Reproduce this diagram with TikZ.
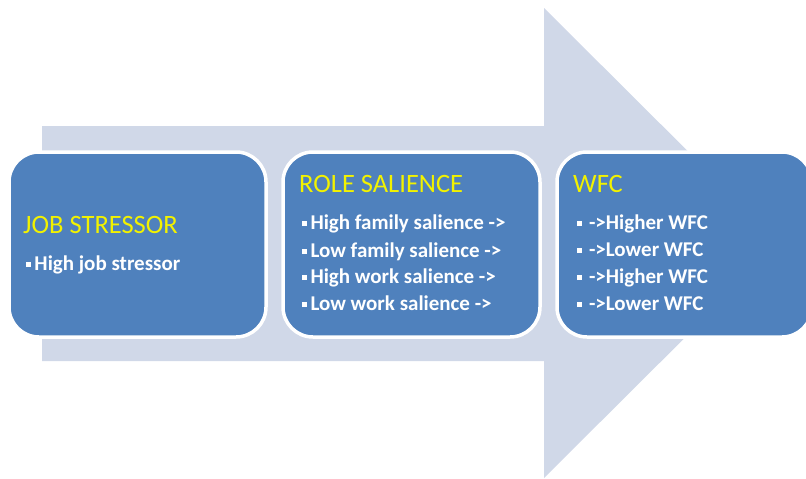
\documentclass[tikz,border=0pt]{standalone}
\usepackage{fontspec}
\setmainfont{Carlito}
\definecolor{arrowfill}{HTML}{D0D8E8}
\definecolor{boxfill}{HTML}{4F81BD}
\definecolor{titleyellow}{HTML}{F2F200}
\newcommand{\sqbullet}{\raisebox{2.8pt}{\rule{4.8pt}{4.8pt}}}
\begin{document}
\begin{tikzpicture}[x=1pt,y=-1pt,
  stagebox/.style={draw=white,line width=3.5pt,fill=boxfill,rounded corners=30pt},
  titletext/.style={anchor=base west,inner sep=0pt,text=titleyellow,font=\fontsize{26.5}{30}\selectfont},
  itemtext/.style={anchor=base west,inner sep=0pt,text=white,font=\bfseries\fontsize{21}{24}\selectfont}]
\useasboundingbox (0,0) rectangle (806,479);
% big arrow
\fill[arrowfill] (42,126) -- (544,126) -- (544,8) -- (780,243) -- (544,478) -- (544,361) -- (42,361) -- cycle;
% boxes
\begin{scope}
\clip (0,0) rectangle (806,479);
\draw[stagebox] (9,152) rectangle (266,337);
\draw[stagebox] (283,152) rectangle (540,337);
\draw[stagebox] (557,152) rectangle (812,337);
\end{scope}
% box 1
\node[titletext] (t1) at (23,233) {JOB STRESSOR};
\node[itemtext] (a1) at (26,270) {\sqbullet\hspace{3.5pt}High job stressor};
% box 2
\node[titletext] (t2) at (299,192) {ROLE SALIENCE};
\node[itemtext] (b1) at (302,229) {\sqbullet\hspace{3.5pt}High family salience ->};
\node[itemtext] (b2) at (302,257) {\sqbullet\hspace{3.5pt}Low family salience ->};
\node[itemtext] (b3) at (302,283) {\sqbullet\hspace{3.5pt}High work salience ->};
\node[itemtext] (b4) at (302,310) {\sqbullet\hspace{3.5pt}Low work salience ->};
% box 3
\node[titletext] (t3) at (573,192) {WFC};
\node[itemtext] (c1) at (577,229) {\sqbullet\hspace{7pt}->Higher WFC};
\node[itemtext] (c2) at (577,256) {\sqbullet\hspace{7pt}->Lower WFC};
\node[itemtext] (c3) at (577,283) {\sqbullet\hspace{7pt}->Higher WFC};
\node[itemtext] (c4) at (577,310) {\sqbullet\hspace{7pt}->Lower WFC};
\end{tikzpicture}
\end{document}
